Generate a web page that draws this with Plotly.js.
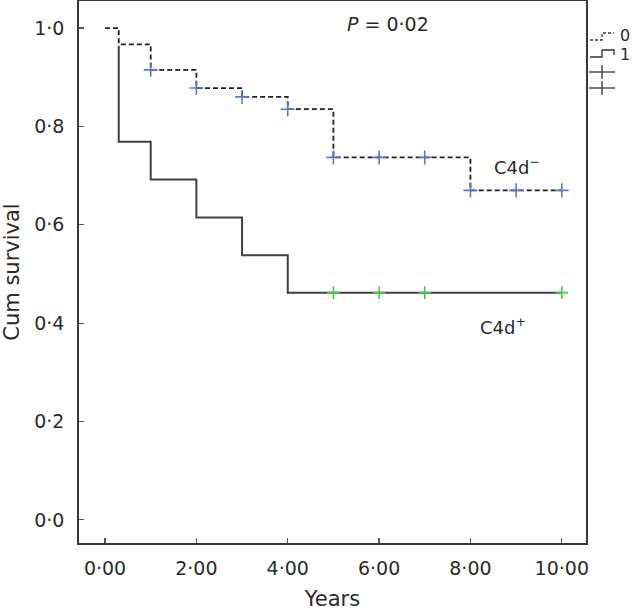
<!DOCTYPE html>
<html>
<head>
<meta charset="utf-8">
<script src="https://cdn.plot.ly/plotly-3.0.1.min.js"></script>
<style>html,body{margin:0;padding:0;background:#fff;}#chart{width:632px;height:612px;}</style>
</head>
<body>
<div id="chart"></div>
<script>
// ---- data ----
const negTimes = [0, 0.3, 1, 2, 3, 4, 5, 8, 10];
const negSurv  = [1.0, 0.967, 0.915, 0.878, 0.86, 0.835, 0.737, 0.67, 0.67];
const negCensTimes = [1, 2, 3, 4, 5, 6, 7, 8, 9, 10];
const negCensSurv  = [0.915, 0.878, 0.86, 0.835, 0.737, 0.737, 0.737, 0.67, 0.67, 0.67];

const posTimes = [0, 0.3, 1, 2, 3, 4, 10];
const posSurv  = [1.0, 0.769, 0.692, 0.615, 0.538, 0.462, 0.462];
const posCensTimes = [5, 6, 7, 10];
const posCensSurv  = [0.462, 0.462, 0.462, 0.462];

const xTickVals = [0, 2, 4, 6, 8, 10];
const xTickText = ['0·00', '2·00', '4·00', '6·00', '8·00', '10·00'];
const yTickVals = [0, 0.2, 0.4, 0.6, 0.8, 1.0];
const yTickText = ['0·0', '0·2', '0·4', '0·6', '0·8', '1·0'];

// ---- layout helpers (pixel -> paper) ----
const W = 632, H = 612;
const L = 79, R = 586, T = 1, B = 543;
const px = x => (x - L) / (R - L);
const py = y => (B - y) / (B - T);

const FONT = 'DejaVu Sans, Liberation Sans, Arial, sans-serif';
const INK = '#2a2a2a';

const traces = [
  {x: posTimes, y: posSurv, mode: 'lines', line: {shape: 'hv', color: '#404040', width: 2}, hoverinfo: 'skip'},
  // white underlay so the dashed curve hides the overlapping solid segment
  {x: negTimes, y: negSurv, mode: 'lines', line: {shape: 'hv', color: '#ffffff', width: 3}, hoverinfo: 'skip'},
  {x: negTimes, y: negSurv, mode: 'lines', line: {shape: 'hv', color: '#222', width: 1.8, dash: '5px,3px'}, hoverinfo: 'skip'},
  {x: negCensTimes, y: negCensSurv, mode: 'markers', marker: {symbol: 'cross-thin', size: 10, line: {color: '#5a78cc', width: 1.6}}, hoverinfo: 'skip'},
  {x: posCensTimes, y: posCensSurv, mode: 'markers', marker: {symbol: 'cross-thin', size: 9, line: {color: '#3fcc4f', width: 1.6}}, hoverinfo: 'skip'}
];

const shapes = [
  // legend symbol "0" (dashed step)
  {type: 'path', xref: 'paper', yref: 'paper',
   path: `M ${px(590)} ${py(40)} L ${px(602)} ${py(40)} L ${px(602)} ${py(33)} L ${px(614)} ${py(33)}`,
   line: {color: '#333', width: 1.3, dash: '3px,2px'}},
  // legend symbol "1" (solid step)
  {type: 'path', xref: 'paper', yref: 'paper',
   path: `M ${px(590)} ${py(57)} L ${px(602)} ${py(57)} L ${px(602)} ${py(50)} L ${px(614)} ${py(50)} L ${px(614)} ${py(55)}`,
   line: {color: '#333', width: 1.3}},
  // legend "+" symbols
  {type: 'line', xref: 'paper', yref: 'paper', x0: px(589), x1: px(615), y0: py(72), y1: py(72), line: {color: '#333', width: 1.3}},
  {type: 'line', xref: 'paper', yref: 'paper', x0: px(602), x1: px(602), y0: py(65), y1: py(79), line: {color: '#333', width: 1.3}},
  {type: 'line', xref: 'paper', yref: 'paper', x0: px(589), x1: px(615), y0: py(88), y1: py(88), line: {color: '#333', width: 1.3}},
  {type: 'line', xref: 'paper', yref: 'paper', x0: px(602), x1: px(602), y0: py(81), y1: py(95), line: {color: '#333', width: 1.3}}
];

const annotations = [
  {xref: 'paper', yref: 'paper', x: px(388), y: py(24), text: '<i>P</i> = 0·02', showarrow: false, font: {family: FONT, size: 19, color: INK}, xanchor: 'center', yanchor: 'middle'},
  {xref: 'paper', yref: 'paper', x: px(517), y: py(166), text: 'C4d<sup>−</sup>', showarrow: false, font: {family: FONT, size: 18, color: INK}, xanchor: 'center', yanchor: 'middle'},
  {xref: 'paper', yref: 'paper', x: px(503), y: py(326), text: 'C4d<sup>+</sup>', showarrow: false, font: {family: FONT, size: 18, color: INK}, xanchor: 'center', yanchor: 'middle'},
  {xref: 'paper', yref: 'paper', x: px(618), y: py(35), text: '0', showarrow: false, font: {family: FONT, size: 16, color: INK}, xanchor: 'left', yanchor: 'middle'},
  {xref: 'paper', yref: 'paper', x: px(618), y: py(55), text: '1', showarrow: false, font: {family: FONT, size: 16, color: INK}, xanchor: 'left', yanchor: 'middle'}
];

const layout = {
  width: W, height: H,
  margin: {l: L, r: W - R, t: T, b: H - B, pad: 0},
  paper_bgcolor: '#fff', plot_bgcolor: '#fff',
  showlegend: false,
  font: {family: FONT, size: 18, color: INK},
  xaxis: {
    range: [-0.57, 10.53], showgrid: false, zeroline: false,
    showline: true, linecolor: '#383838', linewidth: 1.8, mirror: true,
    ticks: 'inside', ticklen: 5, tickcolor: '#555', tickwidth: 1.2,
    tickvals: xTickVals, ticktext: xTickText, ticklabelstandoff: 7,
    tickfont: {family: FONT, size: 19, color: INK},
    title: {text: 'Years', font: {family: FONT, size: 21, color: INK}, standoff: 14}
  },
  yaxis: {
    range: [-0.047, 1.055], showgrid: false, zeroline: false,
    showline: true, linecolor: '#383838', linewidth: 1.8, mirror: true,
    ticks: 'inside', ticklen: 5, tickcolor: '#555', tickwidth: 1.2,
    tickvals: yTickVals, ticktext: yTickText, ticklabelstandoff: 9,
    tickfont: {family: FONT, size: 19, color: INK},
    title: {text: 'Cum survival', font: {family: FONT, size: 21, color: INK}, standoff: 10}
  },
  shapes: shapes,
  annotations: annotations
};

Plotly.newPlot('chart', traces, layout, {displayModeBar: false, staticPlot: true});
</script>
</body>
</html>
